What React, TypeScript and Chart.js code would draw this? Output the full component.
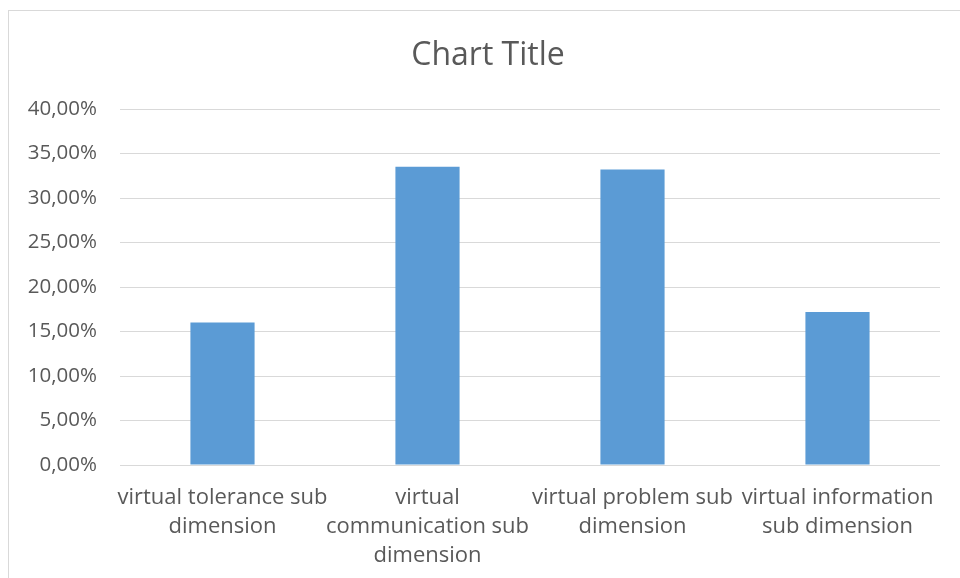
import React, { useEffect, useRef } from "react";
import { Chart, registerables } from "chart.js";

Chart.register(...registerables);

const categories: string[][] = [
  ["virtual tolerance sub", "dimension"],
  ["virtual", "communication sub", "dimension"],
  ["virtual problem sub", "dimension"],
  ["virtual information", "sub dimension"],
];
const values: number[] = [16.0, 33.5, 33.2, 17.2];
const yTicks: number[] = [0, 5, 10, 15, 20, 25, 30, 35, 40];
const chartTitle = "Chart Title";

const FONT = "'Open Sans', Lato, sans-serif";
const TEXT = "#595959";
const GRID = "#d9d9d9";
const BAR = "#5b9bd5";

// white background, thin frame around the chart object, and the title
// centred on the whole frame rather than on the plot
const framePlugin = {
  id: "frame",
  beforeDraw(chart: Chart) {
    const ctx = chart.ctx;
    ctx.save();
    ctx.fillStyle = "#ffffff";
    ctx.fillRect(0, 0, chart.width, chart.height);
    ctx.strokeStyle = GRID;
    ctx.lineWidth = 1;
    ctx.strokeRect(8.5, 10.5, chart.width + 20, chart.height + 20);
    ctx.fillStyle = TEXT;
    ctx.font = `normal 32px ${FONT}`;
    ctx.textAlign = "center";
    ctx.textBaseline = "alphabetic";
    ctx.fillText(chartTitle, 488, 65);
    ctx.restore();
  },
};

export default function App() {
  const ref = useRef<HTMLCanvasElement | null>(null);

  useEffect(() => {
    if (!ref.current) return;
    const chart = new Chart(ref.current, {
      type: "bar",
      data: {
        labels: categories,
        datasets: [
          {
            data: values,
            backgroundColor: BAR,
            borderWidth: 0,
            categoryPercentage: 1,
            barPercentage: 0.313,
          },
        ],
      },
      options: {
        animation: false,
        responsive: false,
        layout: { padding: { left: 0, right: 20, top: 109, bottom: 0 } },
        plugins: {
          legend: { display: false },
          tooltip: { enabled: false },
          title: { display: false },
        },
        scales: {
          x: {
            grid: { display: false },
            border: { display: false },
            ticks: {
              color: TEXT,
              font: { family: FONT, size: 22, lineHeight: 1.318 },
              maxRotation: 0,
              minRotation: 0,
              autoSkip: false,
              padding: 10,
            },
            afterFit(scale: any) {
              scale.height = 113;
            },
          },
          y: {
            min: 0,
            max: 40,
            afterBuildTicks(scale: any) {
              scale.ticks = yTicks.map((v) => ({ value: v }));
            },
            grid: { color: GRID, lineWidth: 1, drawTicks: false },
            border: { display: false },
            ticks: {
              color: TEXT,
              font: { family: FONT, size: 20.5 },
              padding: 23,
              callback: (v: any) => Number(v).toFixed(2).replace(".", ",") + "%",
            },
            afterFit(scale: any) {
              scale.width = 120;
            },
          },
        },
      },
      plugins: [framePlugin],
    });
    return () => chart.destroy();
  }, []);

  return (
    <div style={{ position: "absolute", left: 0, top: 0, width: 960, height: 578 }}>
      <canvas ref={ref} width={960} height={578} />
    </div>
  );
}
